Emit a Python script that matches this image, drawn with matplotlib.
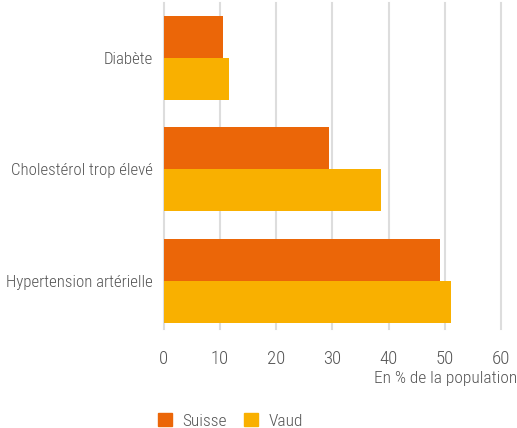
import numpy as np
import matplotlib.pyplot as plt
from matplotlib.patches import Patch

# Data
categories = ["Diabète", "Cholestérol trop élevé", "Hypertension artérielle"]
suisse = [10.6, 29.4, 49.2]
vaud = [11.7, 38.6, 51.1]
ticks = [0, 10, 20, 30, 40, 50, 60]

plt.rcParams['font.family'] = ['Roboto Condensed', 'DejaVu Sans']
plt.rcParams['font.weight'] = 'light'
grey = '#555555'
fs = 12.5

fig = plt.figure(figsize=(5.17, 4.28), dpi=100)
ax = fig.add_axes([163.5 / 517, 1 - 329 / 428, (501.3 - 163.5) / 517, 326 / 428])

y = np.arange(len(categories))
h = 0.377
ax.barh(y - h / 2, suisse, height=h, color='#EB6608', zorder=2)
ax.barh(y + h / 2, vaud, height=h, color='#F9B000', zorder=2)

ax.set_xlim(0, 60)
ax.set_ylim(2.43, -0.49)
ax.set_xticks(ticks)
ax.set_yticks(y)
ax.set_yticklabels(categories)
ax.grid(axis='x', color='#dddddd', linewidth=1.5, zorder=0)
for g in ax.get_xgridlines():
    g.set_clip_on(False)
for s in ax.spines.values():
    s.set_visible(False)
ax.tick_params(axis='both', length=0, labelsize=13.5, colors=grey)
ax.tick_params(axis='y', labelsize=12.2, pad=8)
ax.tick_params(axis='x', pad=15)

fig.text(1.0, 1 - 378 / 428, "En % de la population", ha='right', va='center',
         fontsize=fs, color=grey)

handles = [Patch(color='#EB6608', label='Suisse'), Patch(color='#F9B000', label='Vaud')]
fig.legend(handles=handles, loc='center left', bbox_to_anchor=(158 / 517, 1 - 421 / 428),
           ncol=2, frameon=False, fontsize=fs, labelcolor=grey, borderpad=0,
           borderaxespad=0, handlelength=0.8, handleheight=0.8, handletextpad=0.62,
           columnspacing=0.95)

fig.savefig('out.png', dpi=100)
